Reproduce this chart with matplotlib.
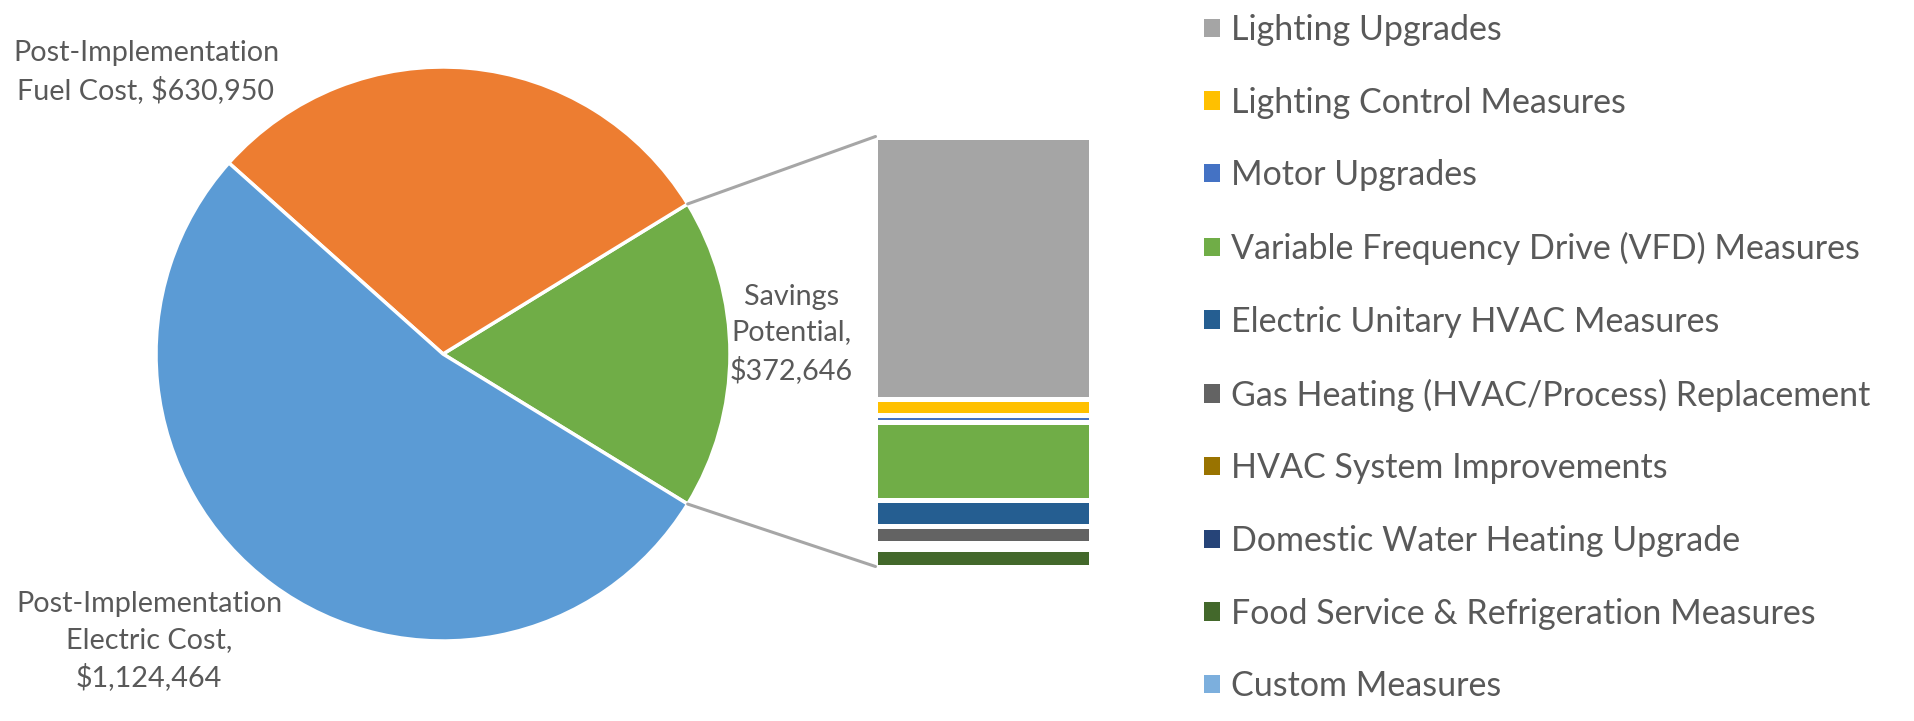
import matplotlib
matplotlib.use("Agg")
import matplotlib.pyplot as plt
import numpy as np
from matplotlib.patches import Patch, ConnectionPatch

plt.rcParams['font.family'] = ['Lato', 'DejaVu Sans']

# ---- data ----
pie_names = ["Savings\nPotential,\n", "Post-Implementation\nFuel Cost, ", "Post-Implementation\nElectric Cost,\n"]
pie_values = [372646, 630950, 1124464]
pie_colors = ["#70AD47", "#ED7D31", "#5B9BD5"]

measures = ["Lighting Upgrades", "Lighting Control Measures", "Motor Upgrades",
            "Variable Frequency Drive (VFD) Measures", "Electric Unitary HVAC Measures",
            "Gas Heating (HVAC/Process) Replacement", "HVAC System Improvements",
            "Domestic Water Heating Upgrade", "Food Service & Refrigeration Measures",
            "Custom Measures"]
measure_values = [227676, 13970, 5810, 67930, 22560, 14140, 2600, 2600, 15360, 0]
measure_colors = ["#A5A5A5", "#FFC000", "#4472C4", "#70AD47", "#255E91",
                  "#636363", "#997300", "#264478", "#43682B", "#7CAFDD"]

TXT = "#595959"
W, H = 1915, 721
fig = plt.figure(figsize=(W / 100, H / 100), dpi=100)

# ---- pie ----
cx, cy, r = 443, 354, 287
ax_pie = fig.add_axes([(cx - r) / W, (H - cy - r) / H, 2 * r / W, 2 * r / H])
total = sum(pie_values)
start = -pie_values[0] / total * 180.0
ax_pie.pie(pie_values, colors=pie_colors, startangle=start, counterclock=True,
           radius=1.0, wedgeprops=dict(edgecolor="white", linewidth=2.5))
ax_pie.set_xlim(-1, 1)
ax_pie.set_ylim(-1, 1)
ax_pie.set_aspect("equal")
ax_pie.axis("off")

label_pos = [(1.213, 0.07), (-1.035, 0.983), (-1.024, -1.0)]
for lab, val, (lx, ly) in zip(pie_names, pie_values, label_pos):
    txt = f"{lab}\\${val:,}"
    ax_pie.text(lx, ly, txt, ha="center", va="center", fontsize=20.7,
                color=TXT, linespacing=1.45)

# ---- bar of pie ----
bx0, bx1, by0, by1 = 875.5, 1091.5, 136.5, 566.5
ax_bar = fig.add_axes([bx0 / W, (H - by1) / H, (bx1 - bx0) / W, (by1 - by0) / H])
bar_total = sum(measure_values)
bottom = 0
for v, c, name in zip(measure_values, measure_colors, measures):
    ax_bar.bar(0, v, width=1, bottom=bottom, align="edge", color=c,
               edgecolor="white", linewidth=3.6, label=name)
    bottom += v
ax_bar.set_xlim(0, 1)
ax_bar.set_ylim(bar_total, 0)
ax_bar.axis("off")

# connector lines
theta = np.deg2rad(pie_values[0] / total * 180.0)
for sgn, yb in [(1, 0), (-1, bar_total)]:
    con = ConnectionPatch(xyA=(np.cos(theta), sgn * np.sin(theta)), coordsA=ax_pie.transData,
                          xyB=(0, yb), coordsB=ax_bar.transData,
                          color="#A6A6A6", linewidth=2.2)
    fig.add_artist(con)

# ---- legend ----
handles = [Patch(facecolor=c, edgecolor="none", label=n) for c, n in zip(measure_colors, measures)]
fig.legend(handles=handles, loc="upper left", bbox_to_anchor=(1204 / W, 1 - 14 / H),
           frameon=False, fontsize=24.5, labelcolor=TXT, handlelength=0.46,
           handleheight=0.46, handletextpad=0.32, labelspacing=1.195, borderpad=0,
           borderaxespad=0)

fig.savefig("out.png", dpi=100, facecolor="white")
